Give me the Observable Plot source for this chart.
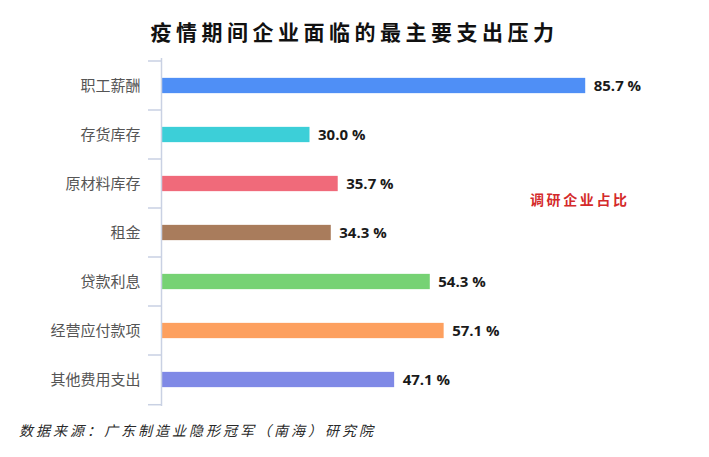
<!DOCTYPE html>
<html><head><meta charset="utf-8">
<script src="https://cdn.jsdelivr.net/npm/d3@7"></script>
<script src="https://cdn.jsdelivr.net/npm/@observablehq/plot@0.6"></script>
<style>
body{margin:0;background:#fff;width:709px;height:457px;overflow:hidden;position:relative;font-family:"Noto Sans CJK SC","Noto Sans",sans-serif;}
#title{position:absolute;left:0;top:16px;width:709px;text-align:center;font-size:21px;font-weight:bold;letter-spacing:4.5px;color:#111;line-height:30px;}
#chart{position:absolute;left:0;top:50px;}
#legend{position:absolute;left:530px;top:189px;font-size:14px;color:#d42a2a;letter-spacing:2.6px;line-height:20px;font-weight:bold;}
#caption{position:absolute;left:19px;top:420px;font-size:14px;font-style:italic;color:#2a2a2a;letter-spacing:3px;line-height:20px;}
</style></head>
<body>
<div id="title">疫情期间企业面临的最主要支出压力</div>
<div id="chart"></div>
<div id="legend">调研企业占比</div>
<div id="caption">数据来源：广东制造业隐形冠军（南海）研究院</div>
<script>
const categories = ["职工薪酬","存货库存","原材料库存","租金","贷款利息","经营应付款项","其他费用支出"];
const values = [85.7, 30.0, 35.7, 34.3, 54.3, 57.1, 47.1];
const colors = ["#4f8ff6","#3ccfd8","#f06a7a","#a97c5c","#76d274","#fda05f","#7f89e6"];
const valueLabels = ["85.7 %","30.0 %","35.7 %","34.3 %","54.3 %","57.1 %","47.1 %"];

const data = categories.map((c,i)=>({cat:c, v:values[i], color:colors[i], label:valueLabels[i]}));

const H = 365, mT = 8, mB = 9;
const step = (H - mT - mB) / categories.length;
const barH = 16;
const inset = (step - barH) / 2;

const chart = Plot.plot({
  width: 709,
  height: H,
  marginLeft: 161,
  marginRight: 53,
  marginTop: mT,
  marginBottom: mB,
  x: {domain: [0, 100], axis: null},
  y: {domain: categories, padding: 0, axis: null, label: null},
  color: {type: "identity"},
  style: {background: "transparent", overflow: "visible"},
  marks: [
    Plot.barX(data, {y: "cat", x: "v", fill: "color", insetTop: inset, insetBottom: inset}),
    Plot.ruleX([0], {stroke: "#c9d1e3", strokeWidth: 1.5}),
    Plot.axisY({tickSize: 0, tickPadding: 21, fontSize: 15, color: "#555", fontFamily: "Noto Sans CJK SC", label: null}),
    Plot.text(data, {y: "cat", x: "v", text: "label", dx: 8, textAnchor: "start", fontSize: 15, fontWeight: "bold", fill: "#1a1a1a", fontFamily: "Open Sans"})
  ]
});
document.getElementById("chart").appendChild(chart);

// boundary ticks on the axis (between bands, top and bottom)
const ys = chart.scale("y");
const svg = d3.select(chart);
const boundaries = categories.map(c => ys.apply(c)).concat([ys.apply(categories[categories.length-1]) + step]);
svg.selectAll("line.bnd").data(boundaries).join("line")
  .attr("class", "bnd")
  .attr("x1", 148).attr("x2", 161)
  .attr("y1", d => d).attr("y2", d => d)
  .attr("stroke", "#c9d1e3").attr("stroke-width", 1.5);
</script>
</body></html>
